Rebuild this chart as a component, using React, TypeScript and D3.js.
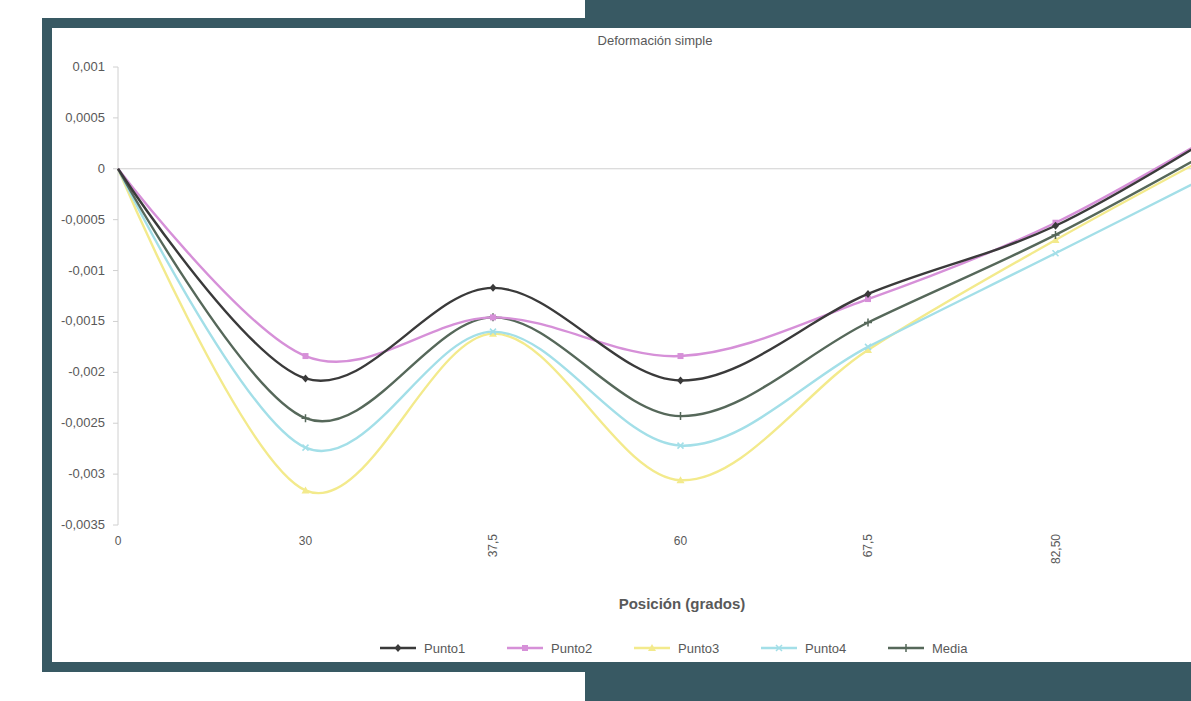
import React from "react";
import * as d3 from "d3";

const categories = ["0", "30", "37,5", "60", "67,5", "82,50", "90"];
const seriesNames = ["Punto1", "Punto2", "Punto3", "Punto4", "Media"];
const punto1 = [0, -0.00206, -0.00117, -0.00208, -0.00123, -0.00056, 0.0005];
const punto2 = [0, -0.00184, -0.00146, -0.00184, -0.00128, -0.00053, 0.0005];
const punto3 = [0, -0.00316, -0.00162, -0.00306, -0.00178, -0.0007, 0.0003];
const punto4 = [0, -0.00274, -0.0016, -0.00272, -0.00175, -0.00083, 0.0001];
const media = [0, -0.00245, -0.00146, -0.00243, -0.00151, -0.00065, 0.00035];
const yTicks = [0.001, 0.0005, 0, -0.0005, -0.001, -0.0015, -0.002, -0.0025, -0.003, -0.0035];
const titleText = "Deformación simple";
const xTitle = "Posición (grados)";

const seriesValues = [punto1, punto2, punto3, punto4, media];
const colors = ["#3a3a3a", "#d690d8", "#f3ea8c", "#a3dfe8", "#56685a"];
const markers = ["diamond", "square", "triangle", "x", "plus"];
const TEAL = "#385963";
const FONT = "'Liberation Sans', Arial, sans-serif";

function Marker({ type, x, y, color }: { type: string; x: number; y: number; color: string }) {
  const s = 3.5;
  if (type === "diamond")
    return <path d={`M${x},${y - s - 0.5}L${x + s},${y}L${x},${y + s + 0.5}L${x - s},${y}Z`} fill={color} />;
  if (type === "square") return <rect x={x - 3} y={y - 3} width={6} height={6} fill={color} />;
  if (type === "triangle")
    return <path d={`M${x},${y - 4}L${x + 4},${y + 3}L${x - 4},${y + 3}Z`} fill={color} />;
  if (type === "x")
    return (
      <path d={`M${x - 3},${y - 3}L${x + 3},${y + 3}M${x - 3},${y + 3}L${x + 3},${y - 3}`} stroke={color} strokeWidth={1.5} />
    );
  return (
    <path d={`M${x - 4},${y}L${x + 4},${y}M${x},${y - 4}L${x},${y + 4}`} stroke={color} strokeWidth={1.5} />
  );
}

export default function App() {
  const W = 1191;
  const H = 701;
  const x = d3.scalePoint<string>().domain(categories).range([118, 118 + 187.5 * (categories.length - 1)]);
  const y = d3.scaleLinear().domain([-0.0035, 0.001]).range([525, 67]);
  const line = d3
    .line<number>()
    .x((_, i) => x(categories[i]) as number)
    .y((d) => y(d))
    .curve(d3.curveCardinal.tension(0));

  const legendX0 = 380;
  const legendStep = 127;
  const legendY = 648;
  const drawOrder = [2, 3, 4, 1, 0];

  return (
    <svg
      width={W}
      height={H}
      style={{ position: "absolute", left: 0, top: 0, background: "#ffffff" }}
      fontFamily={FONT}
    >
      <defs>
        <clipPath id="inner">
          <rect x={52} y={28} width={W - 52} height={634} />
        </clipPath>
      </defs>
      <rect x={0} y={0} width={W} height={H} fill="#ffffff" />
      {/* frame */}
      <rect x={585} y={0} width={W - 585} height={28} fill={TEAL} />
      <rect x={42} y={18} width={543} height={10} fill={TEAL} />
      <rect x={42} y={18} width={10} height={654} fill={TEAL} />
      <rect x={42} y={662} width={543} height={10} fill={TEAL} />
      <rect x={585} y={662} width={W - 585} height={39} fill={TEAL} />

      <g clipPath="url(#inner)">
        <text x={655} y={45} textAnchor="middle" fontSize={13} fill="#595959">
          {titleText}
        </text>
        {/* y axis */}
        <line x1={118} x2={118} y1={y(0.001)} y2={y(-0.0035)} stroke="#d0d0d0" strokeWidth={1} />
        {yTicks.map((t) => (
          <g key={t}>
            <line x1={113} x2={118} y1={y(t)} y2={y(t)} stroke="#d0d0d0" />
            <text x={105} y={y(t) + 4} textAnchor="end" fontSize={13} fill="#595959">
              {t === 0 ? "0" : String(t).replace(".", ",")}
            </text>
          </g>
        ))}
        {/* zero line */}
        <line x1={118} x2={W} y1={y(0)} y2={y(0)} stroke="#d0d0d0" strokeWidth={1} />
        {/* category labels (only those inside the visible crop) */}
        {categories.map((c) => {
          const cx = x(c) as number;
          if (cx > W - 10) return null;
          return c.length > 2 ? (
            <text
              key={c}
              transform={`translate(${cx + 4},${534}) rotate(-90)`}
              textAnchor="end"
              fontSize={12}
              fill="#595959"
            >
              {c}
            </text>
          ) : (
            <text key={c} x={cx} y={545} textAnchor="middle" fontSize={12} fill="#595959">
              {c}
            </text>
          );
        })}
        <text x={682} y={609} textAnchor="middle" fontSize={15} fontWeight="bold" fill="#595959">
          {xTitle}
        </text>
        {/* series */}
        {drawOrder.map((si) => (
          <g key={si}>
            <path d={line(seriesValues[si]) || ""} fill="none" stroke={colors[si]} strokeWidth={2.4} />
            {seriesValues[si].map((v, i) =>
              i === 0 ? null : (
                <Marker key={i} type={markers[si]} x={x(categories[i]) as number} y={y(v)} color={colors[si]} />
              )
            )}
          </g>
        ))}
        {/* legend */}
        {seriesNames.map((n, i) => {
          const lx = legendX0 + i * legendStep;
          return (
            <g key={n}>
              <line x1={lx} x2={lx + 36} y1={legendY} y2={legendY} stroke={colors[i]} strokeWidth={2.4} />
              <Marker type={markers[i]} x={lx + 18} y={legendY} color={colors[i]} />
              <text x={lx + 44} y={legendY + 5} fontSize={13} fill="#595959">
                {n}
              </text>
            </g>
          );
        })}
      </g>
    </svg>
  );
}
